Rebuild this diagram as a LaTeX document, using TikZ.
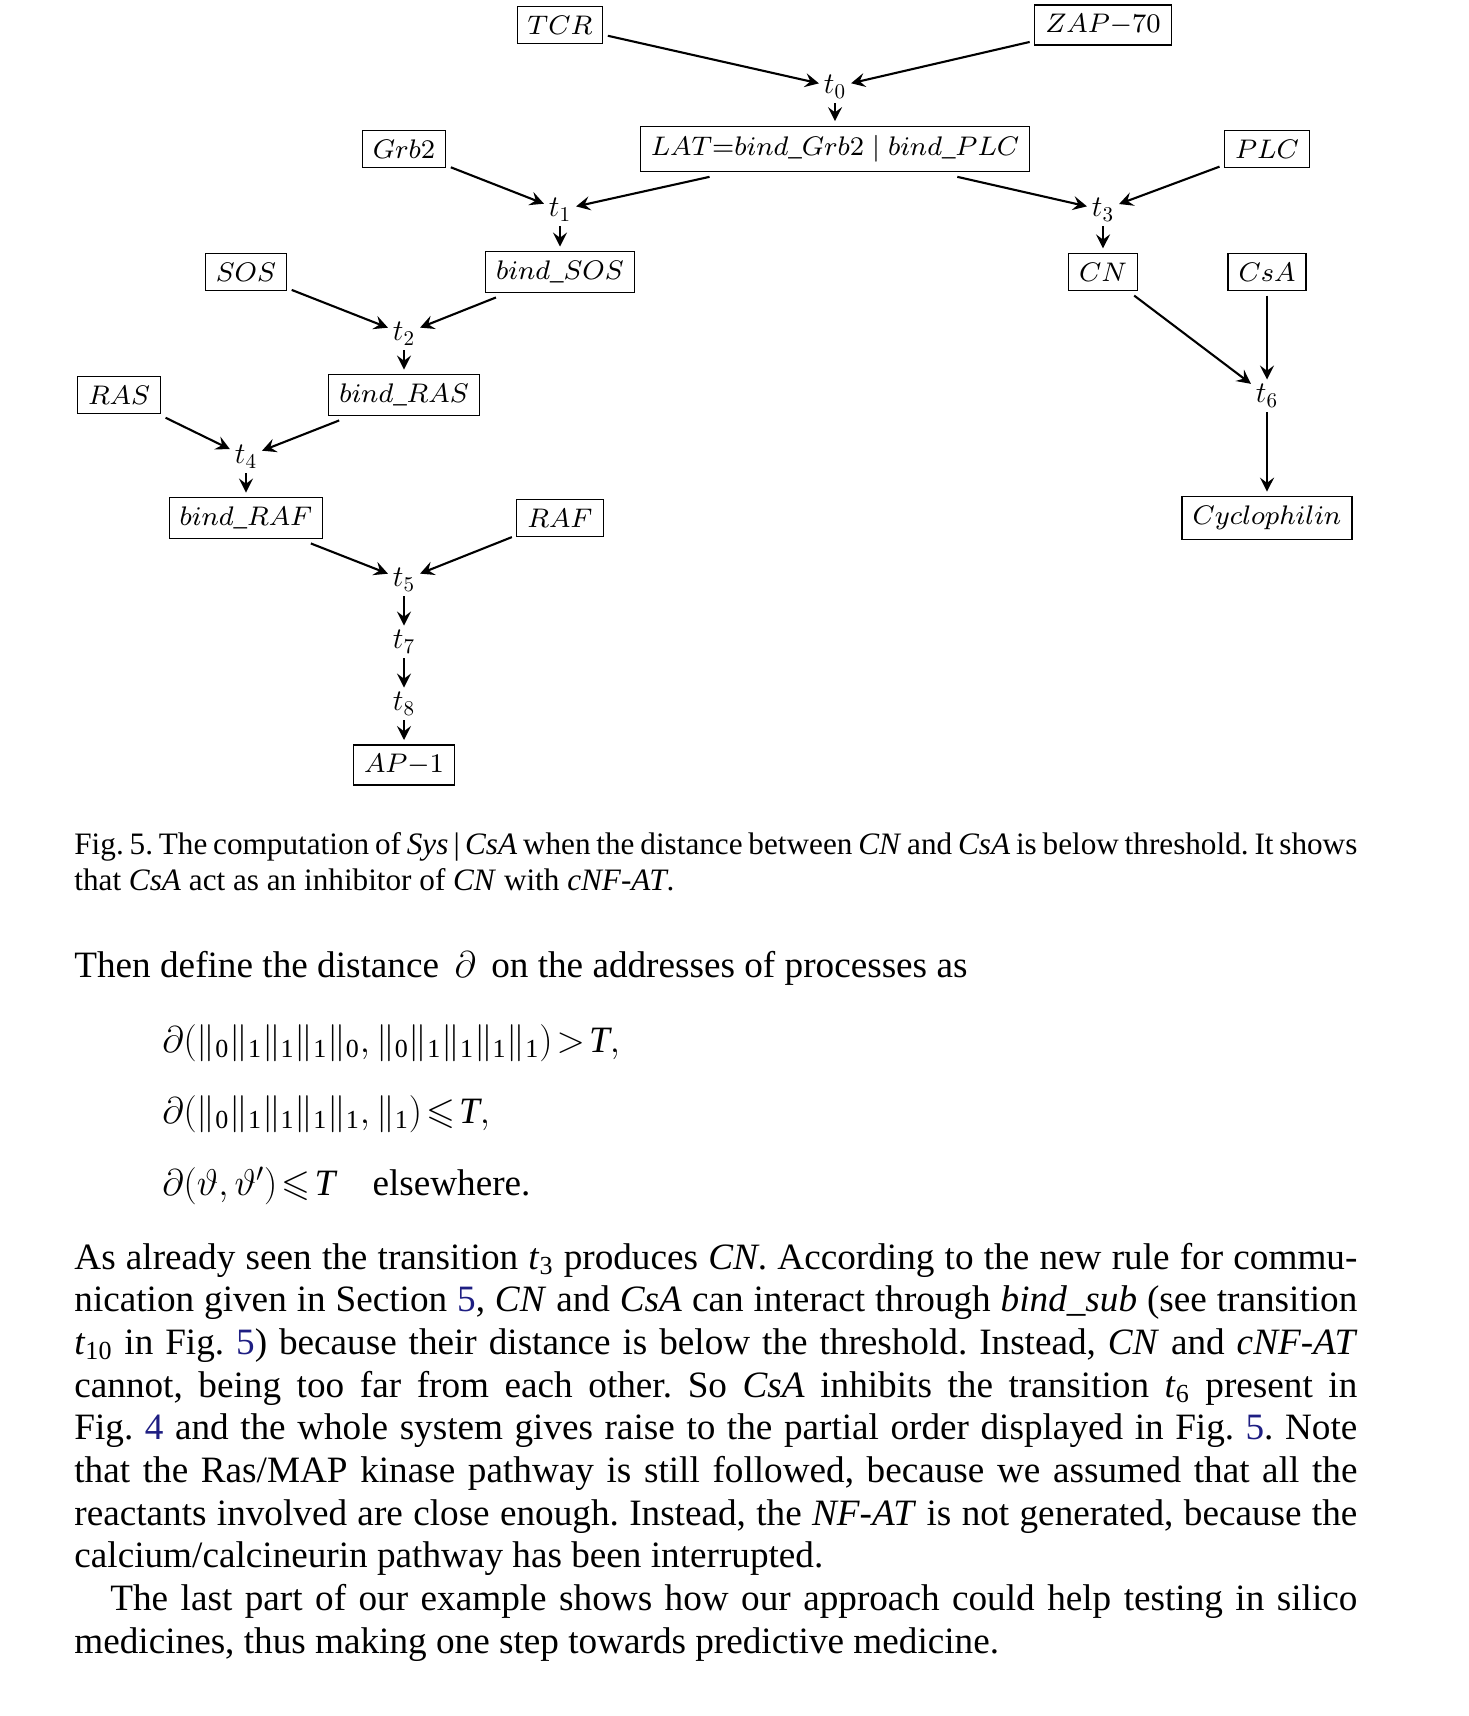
\documentclass[tikz,border=0pt]{standalone}
\usepackage{fix-cm}
\usepackage{amsmath,amssymb}
\usepackage[no-math]{fontspec}
\setmainfont{Liberation Serif}
\usetikzlibrary{arrows.meta}
\definecolor{lnkblue}{RGB}{30,30,130}
\newcommand{\lnk}[1]{\textcolor{lnkblue}{#1}}
\newcommand{\bl}[1]{\scalebox{1.68}{\fontsize{8}{9}\selectfont$#1$}}
\newcommand{\tightrel}{\thickmuskip=2mu\relax\medmuskip=2mu\relax}
\frenchspacing
\begin{document}
\begin{tikzpicture}[x=0.5pt,y=-0.5pt,
  box/.style={draw, line width=0.6pt, inner xsep=5.3pt, inner ysep=4.7pt, outer sep=2.5pt},
  tr/.style={inner sep=1pt, outer sep=1.5pt, font=\fontsize{15}{17}\selectfont},
  arr/.style={-{Stealth[length=7pt,width=7pt,inset=2.6pt]}, line width=1.05pt},
  txt/.style={inner sep=0pt, anchor=base west},
  eqn/.style={txt, font=\fontsize{18.6}{21.35}\selectfont}]
\useasboundingbox (0,0) rectangle (1468,1716);
% boxes
\node[box] (TCR)  at (560,25)  {\bl{TCR}};
\node[box] (ZAP)  at (1103,25) {\bl{ZAP{-}70}};
\node[tr]  (t0)   at (835,87)  {$t_0$};
\node[box] (LAT)  at (835,149) {\bl{LAT{=}bind\_Grb2\mid bind\_PLC}};
\node[box] (Grb2) at (404,149) {\bl{Grb2}};
\node[box] (PLC)  at (1267,149){\bl{PLC}};
\node[tr]  (t1)   at (560,210) {$t_1$};
\node[tr]  (t3)   at (1103,210){$t_3$};
\node[box] (SOS)  at (246,272) {\bl{SOS}};
\node[box] (bSOS) at (560,272) {\bl{bind\_SOS}};
\node[box] (CN)   at (1103,272){\bl{CN}};
\node[box] (CsA)  at (1267,272){\bl{CsA}};
\node[tr]  (t2)   at (404,334) {$t_2$};
\node[box] (RAS)  at (119,395) {\bl{RAS}};
\node[box] (bRAS) at (404,395) {\bl{bind\_RAS}};
\node[tr]  (t6)   at (1267,396){$t_6$};
\node[tr]  (t4)   at (246,457) {$t_4$};
\node[box] (bRAF) at (246,518) {\bl{bind\_RAF}};
\node[box] (RAF)  at (560,518) {\bl{RAF}};
\node[box] (Cyc)  at (1267,518){\bl{Cyclophilin}};
\node[tr]  (t5)   at (404,580) {$t_5$};
\node[tr]  (t7)   at (404,642) {$t_7$};
\node[tr]  (t8)   at (404,704) {$t_8$};
\node[box] (AP)   at (404,765) {\bl{AP{-}1}};
% arrows
\draw[arr] (TCR) -- (t0);
\draw[arr] (ZAP) -- (t0);
\draw[arr] (t0) -- (LAT);
\draw[arr] (Grb2) -- (t1);
\draw[arr] (LAT) -- (t1);
\draw[arr] (LAT) -- (t3);
\draw[arr] (PLC) -- (t3);
\draw[arr] (t1) -- (bSOS);
\draw[arr] (t3) -- (CN);
\draw[arr] (SOS) -- (t2);
\draw[arr] (bSOS) -- (t2);
\draw[arr] (t2) -- (bRAS);
\draw[arr] (CN) -- (t6);
\draw[arr] (CsA) -- (t6);
\draw[arr] (t6) -- (Cyc);
\draw[arr] (RAS) -- (t4);
\draw[arr] (bRAS) -- (t4);
\draw[arr] (t4) -- (bRAF);
\draw[arr] (bRAF) -- (t5);
\draw[arr] (RAF) -- (t5);
\draw[arr] (t5) -- (t7);
\draw[arr] (t7) -- (t8);
\draw[arr] (t8) -- (AP);
% caption
\node[txt] (cap) at (74,854) {\parbox[t]{641.5pt}{\fontsize{15.6}{18}\selectfont\parindent=0pt\parskip=0pt
\makebox[\linewidth][s]{Fig. 5. The computation of \textit{Sys}\,|\,\textit{CsA} when the distance between \textit{CN} and \textit{CsA} is below threshold. It shows}\par
that \textit{CsA} act as an inhibitor of \textit{CN} with \textit{cNF-AT}.}};
% text
\node[txt] (then) at (74,977) {\fontsize{18.6}{21.35}\selectfont Then define the distance \,$\partial$\, on the addresses of processes as};
\node[eqn] (eq1) at (162,1052) {\tightrel$\partial(\|_{\text{0}}\|_{\text{1}}\|_{\text{1}}\|_{\text{1}}\|_{\text{0}},\|_{\text{0}}\|_{\text{1}}\|_{\text{1}}\|_{\text{1}}\|_{\text{1}})>\textit{T},$};
\node[eqn] (eq2) at (162,1123) {\tightrel$\partial(\|_{\text{0}}\|_{\text{1}}\|_{\text{1}}\|_{\text{1}}\|_{\text{1}},\|_{\text{1}})\leqslant\textit{T},$};
\node[eqn] (eq3) at (162,1195) {\tightrel$\partial(\vartheta,\vartheta')\leqslant\textit{T}$\quad elsewhere.};
\node[txt] (para) at (74,1269) {\parbox[t]{641.5pt}{\fontsize{18.6}{21.35}\selectfont\parindent=0pt\parskip=0pt
\makebox[\linewidth][s]{As already seen the transition \textit{t}\textsubscript{3} produces \textit{CN}. According to the new rule for commu-}\par
\makebox[\linewidth][s]{nication given in Section \lnk{5}, \textit{CN} and \textit{CsA} can interact through \textit{bind\_sub} (see transition}\par
\makebox[\linewidth][s]{\textit{t}\textsubscript{10} in Fig. \lnk{5}) because their distance is below the threshold. Instead, \textit{CN} and \textit{cNF-AT}}\par
\makebox[\linewidth][s]{cannot, being too far from each other. So \textit{CsA} inhibits the transition \textit{t}\textsubscript{6} present in}\par
\makebox[\linewidth][s]{Fig. \lnk{4} and the whole system gives raise to the partial order displayed in Fig. \lnk{5}. Note}\par
\makebox[\linewidth][s]{that the Ras/MAP kinase pathway is still followed, because we assumed that all the}\par
\makebox[\linewidth][s]{reactants involved are close enough. Instead, the \textit{NF-AT} is not generated, because the}\par
calcium/calcineurin pathway has been interrupted.\par
\makebox[\linewidth][s]{\hspace*{18pt}The last part of our example shows how our approach could help testing in silico}\par
medicines, thus making one step towards predictive medicine.}};
\end{tikzpicture}
\end{document}
